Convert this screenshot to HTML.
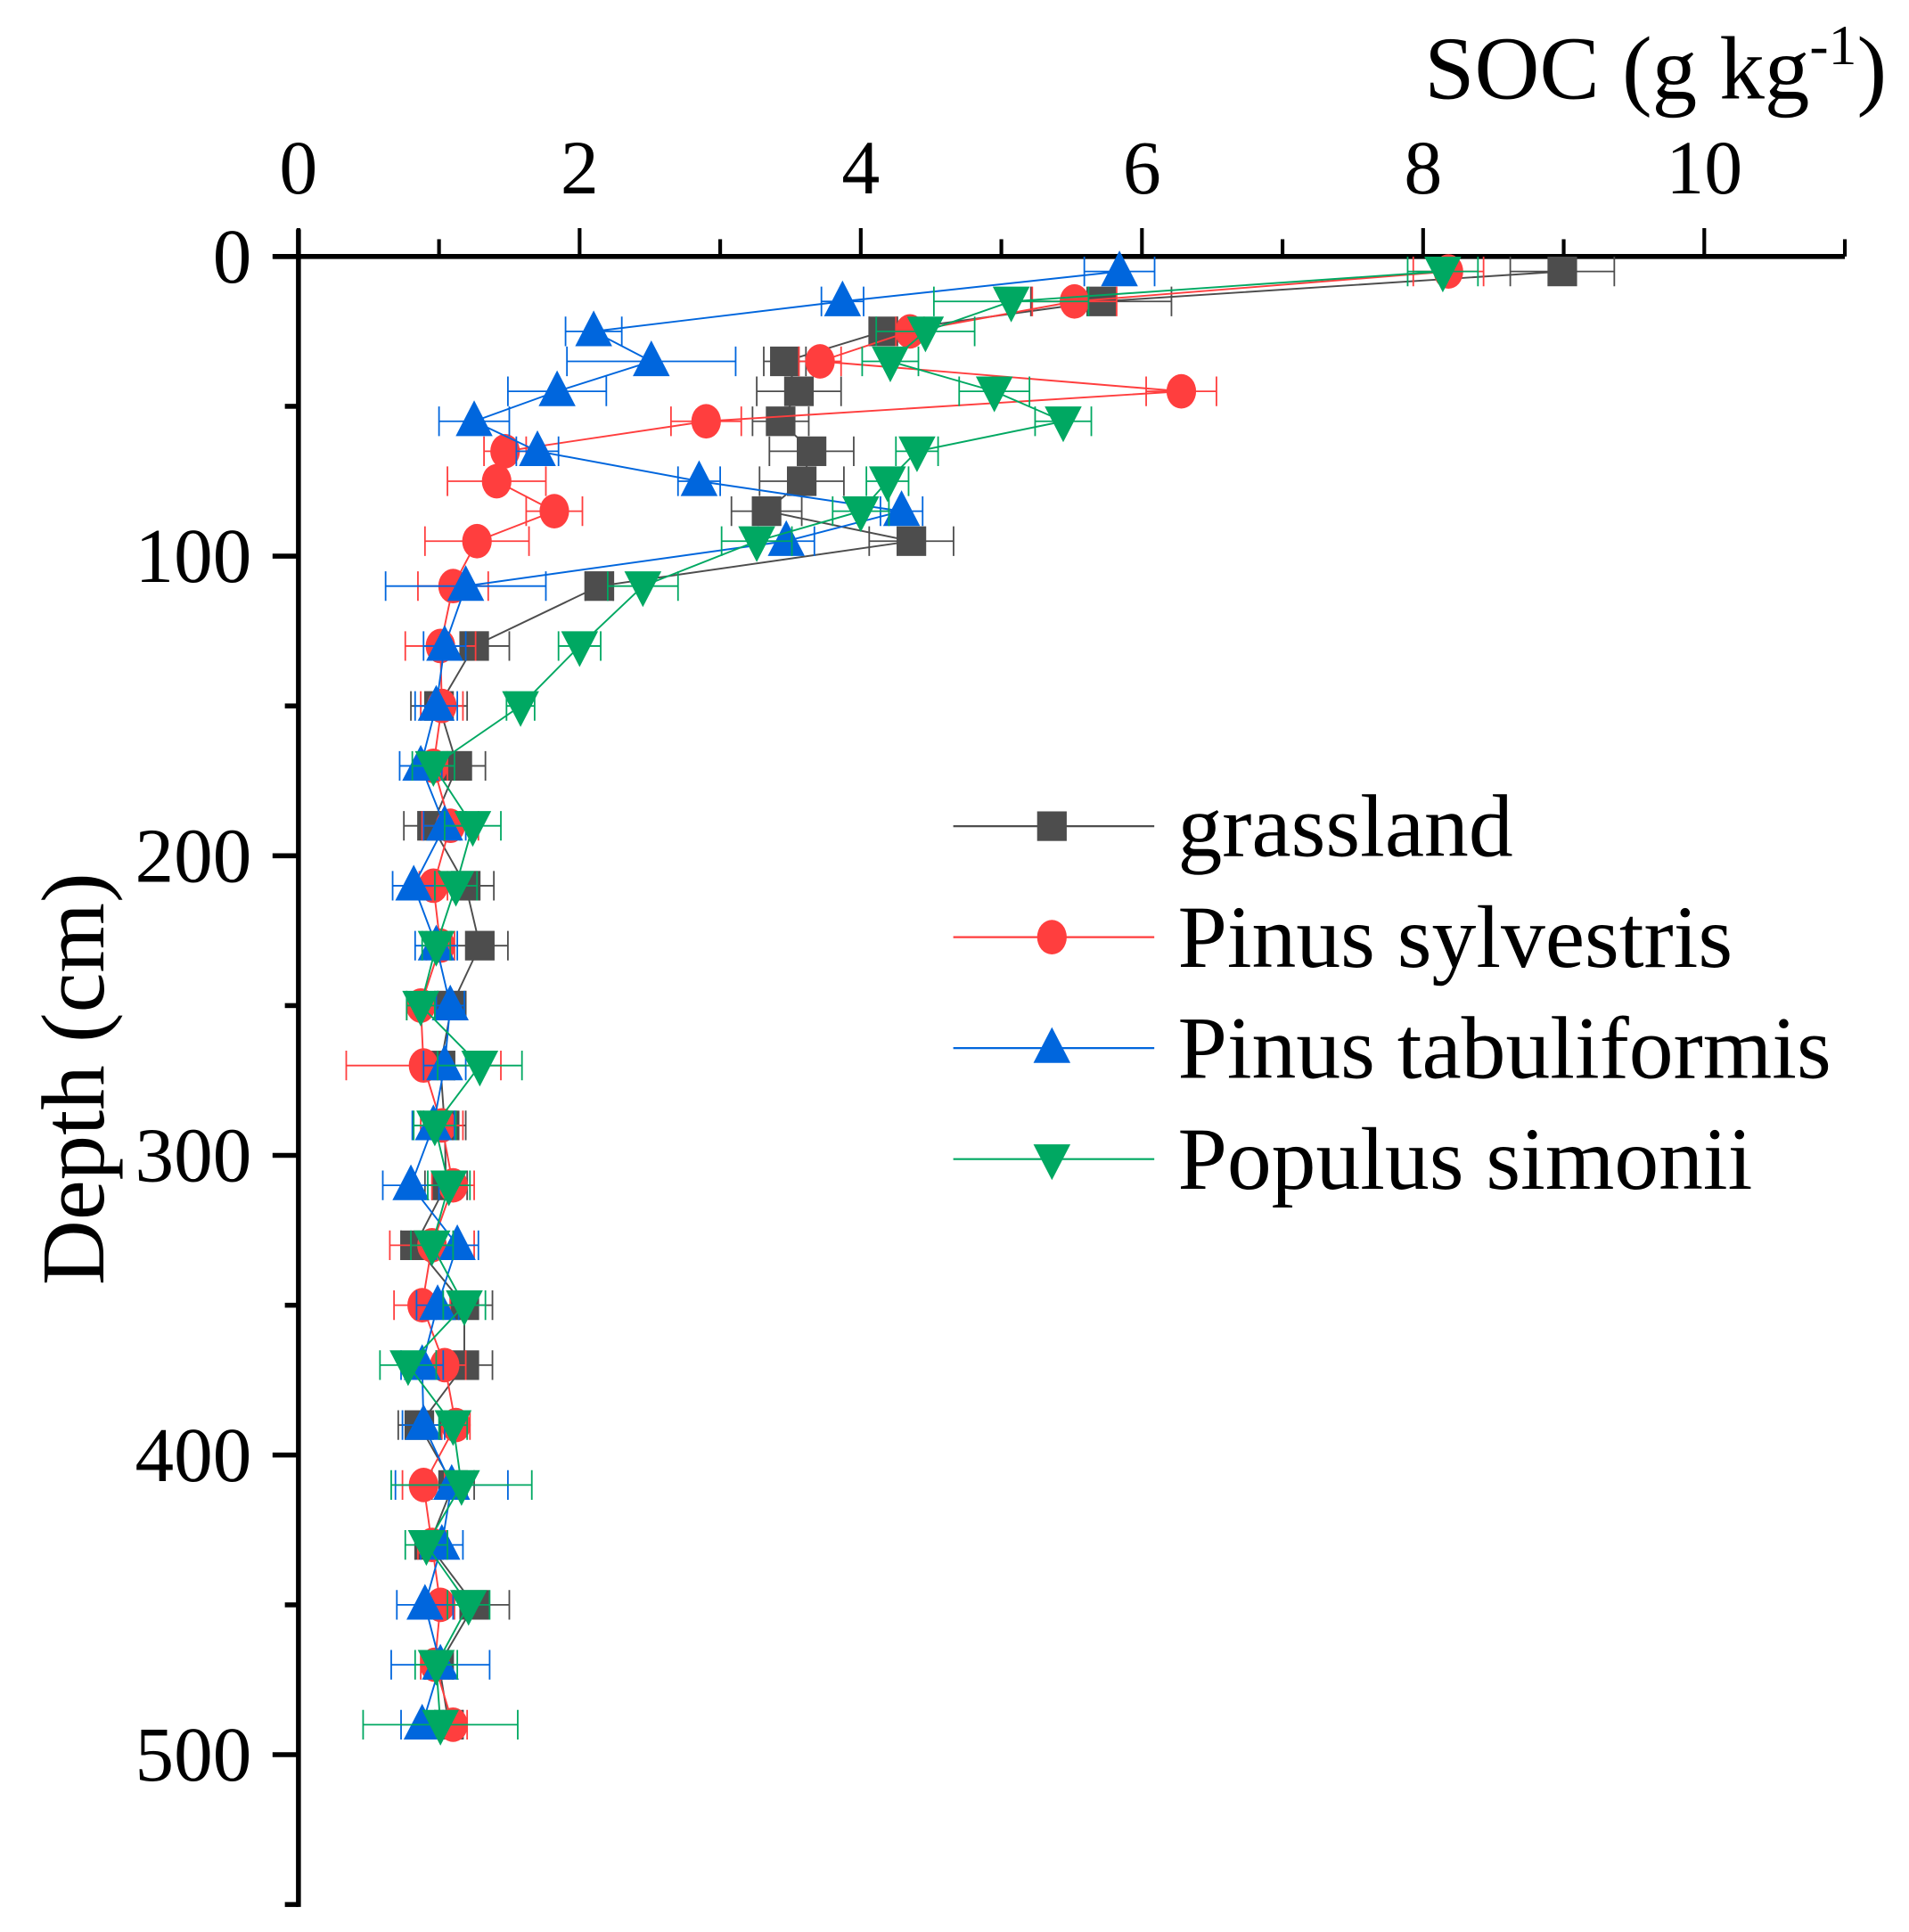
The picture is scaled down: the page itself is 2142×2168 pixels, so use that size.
<!DOCTYPE html>
<html><head><meta charset="utf-8"><style>
html,body{margin:0;padding:0;background:#fff;}
svg{display:block;}
text{font-family:"Liberation Serif",serif;fill:#000;}
</style></head><body>
<svg id="chart" width="2142" height="2168" viewBox="0 0 1548 1566.8" xmlns="http://www.w3.org/2000/svg">
<g id="axes"></g>
<g id="series"></g>
<g id="legend"></g>
<text x="1530" y="80" text-anchor="end" font-size="73">SOC (g kg<tspan font-size="46" dy="-28">-1</tspan><tspan dy="28">)</tspan></text>
<text transform="translate(84,875) rotate(-90)" text-anchor="middle" font-size="73">Depth (cm)</text>
</svg>
<script>
const depths=[5,15,25,35,45,55,65,75,85,95,110,130,150,170,190,210,230,250,270,290,310,330,350,370,390,410,430,450,470,490];
const grassland=[8.99,5.71,4.16,3.46,3.56,3.43,3.65,3.58,3.33,4.36,2.14,1.25,1.0,1.13,0.95,1.19,1.29,1.09,1.01,1.04,1.05,0.83,1.18,1.18,0.86,1.1,0.93,1.25,1.0,1.07];
const grasslandErr=[0.37,0.5,0.1,0.15,0.3,0.2,0.3,0.3,0.25,0.3,0.1,0.25,0.2,0.2,0.2,0.2,0.2,0.1,0.1,0.15,0.15,0.1,0.2,0.2,0.15,0.15,0.1,0.25,0.1,0.1];
const sylvestris=[8.18,5.52,4.35,3.71,6.28,2.9,1.47,1.41,1.82,1.27,1.1,1.01,1.02,0.96,1.08,0.96,1.01,0.87,0.89,1.02,1.1,0.95,0.88,1.04,1.12,0.89,0.95,1.01,0.97,1.1];
const sylvestrisErr=[0.25,0.3,0.1,0.15,0.25,0.25,0.15,0.35,0.2,0.37,0.25,0.25,0.15,0.1,0.2,0.1,0.1,0.1,0.55,0.15,0.15,0.3,0.2,0.15,0.1,0.15,0.1,0.1,0.1,0.1];
const tabuliformis=[5.84,3.87,2.1,2.51,1.84,1.25,1.7,2.85,4.29,3.47,1.19,1.04,0.98,0.87,1.04,0.82,0.98,1.08,1.04,0.96,0.8,1.13,0.99,0.88,0.89,1.09,1.02,0.9,1.01,0.88];
const tabuliformisErr=[0.25,0.15,0.2,0.6,0.35,0.25,0.15,0.15,0.15,0.2,0.57,0.15,0.15,0.15,0.15,0.15,0.15,0.1,0.15,0.15,0.2,0.15,0.15,0.15,0.15,0.4,0.15,0.2,0.35,0.15];
const simonii=[8.14,5.07,4.46,4.21,4.95,5.44,4.4,4.19,4.0,3.26,2.45,2.0,1.58,0.96,1.24,1.12,0.98,0.87,1.29,0.97,1.07,0.95,1.18,0.78,1.1,1.16,0.91,1.21,0.98,1.01];
const simoniiErr=[0.25,0.55,0.35,0.2,0.25,0.2,0.15,0.15,0.2,0.25,0.25,0.15,0.1,0.15,0.2,0.15,0.1,0.1,0.3,0.15,0.15,0.15,0.15,0.2,0.1,0.5,0.15,0.15,0.15,0.55];
const xTicks=[0,2,4,6,8,10];
const yTicks=[0,100,200,300,400,500];
const seriesNames=["grassland","Pinus sylvestris","Pinus tabuliformis","Populus simonii"];

const NS="http://www.w3.org/2000/svg";
const X0=242,XU=114,Y0=208,YU=2.43;
const sx=v=>X0+v*XU, sy=d=>Y0+d*YU;
function mk(tag,attrs,parent){const e=document.createElementNS(NS,tag);for(const k in attrs)e.setAttribute(k,attrs[k]);parent.appendChild(e);return e;}
const axes=document.getElementById('axes'),ser=document.getElementById('series'),leg=document.getElementById('legend');

let e=mk('line',{x1:222,y1:Y0,x2:1496,y2:Y0,stroke:'#000','stroke-width':4},axes);

e=mk('line',{x1:X0,y1:186,x2:X0,y2:sy(550)+2,stroke:'#000','stroke-width':4},axes);

for(let v=0;v<=11;v++){
  const major=v%2===0;
  e=mk('line',{x1:sx(v),y1:Y0,x2:sx(v),y2:major?185:194,stroke:'#000','stroke-width':3},axes);
  
}
xTicks.forEach(v=>{e=mk('text',{x:sx(v),y:157,'text-anchor':'middle','font-size':62},axes);e.textContent=v;
  });
for(let d=0;d<=550;d+=50){
  const major=d%100===0;
  e=mk('line',{x1:X0,y1:sy(d),x2:major?221:231,y2:sy(d),stroke:'#000','stroke-width':4},axes);
  
}
yTicks.forEach(d=>{e=mk('text',{x:204,y:sy(d)+21,'text-anchor':'end','font-size':63},axes);e.textContent=d;
  });

const colors=['#4d4d4d','#ff3e3e','#0066dd','#00a862'];
const shapes=['square','circle','up','down'];
const allVals=[grassland,sylvestris,tabuliformis,simonii];
const allErr=[grasslandErr,sylvestrisErr,tabuliformisErr,simoniiErr];
function marker(shape,cx,cy,col,parent){
  let m;
  if(shape==='square')m=mk('rect',{x:cx-12,y:cy-12,width:24,height:24,fill:col},parent);
  else if(shape==='circle')m=mk('ellipse',{cx:cx,cy:cy,rx:12,ry:14,fill:col},parent);
  else if(shape==='up')m=mk('polygon',{points:`${cx},${cy-17} ${cx-15},${cy+12} ${cx+15},${cy+12}`,fill:col},parent);
  else m=mk('polygon',{points:`${cx},${cy+17} ${cx-15},${cy-12} ${cx+15},${cy-12}`,fill:col},parent);
  return m;
}
allVals.forEach((vals,si)=>{
  const g=mk('g',{},ser);
  
  
  const col=colors[si];
  const pl=mk('polyline',{points:vals.map((v,i)=>sx(v)+','+sy(depths[i])).join(' '),fill:'none',stroke:col,'stroke-width':1.4},g);
  
  
  vals.forEach((v,i)=>{
    const y=sy(depths[i]),er=allErr[si][i],a=sx(v-er),b=sx(v+er);
    const eb=mk('path',{d:`M${a},${y}H${b}M${a},${y-12}V${y+12}M${b},${y-12}V${y+12}`,stroke:col,'stroke-width':1.3,fill:'none'},g);
    
    
  });
  vals.forEach((v,i)=>{
    const m=marker(shapes[si],sx(v),sy(depths[i]),col,g);
    
    
  });
});
seriesNames.forEach((n,i)=>{
  const y=670+i*90;
  const g=mk('g',{},leg);
  
  
  mk('line',{x1:773,y1:y,x2:936,y2:y,stroke:colors[i],'stroke-width':1.6},g);
  marker(shapes[i],853,y,colors[i],g);
  const t=mk('text',{x:955,y:y+24,'font-size':72},g);t.textContent=n;
});
</script>
</body></html>
